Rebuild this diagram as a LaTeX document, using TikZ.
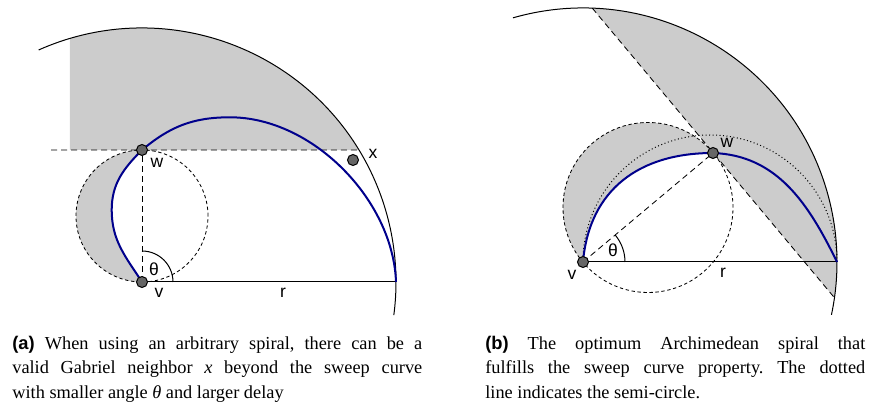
\documentclass[tikz,border=0pt]{standalone}
\usepackage{fontspec}
\setmainfont{Liberation Serif}
\setsansfont{Liberation Sans}
\usepackage{tikz}
\usetikzlibrary{calc}

\definecolor{areagray}{RGB}{204,204,204}
\definecolor{dotgray}{RGB}{102,102,102}
\definecolor{spiralblue}{RGB}{0,0,140}

\begin{document}
\begin{tikzpicture}[x=0.6pt, y=0.6pt,
    dot/.style={circle, draw, fill=dotgray, inner sep=0pt, minimum size=6.6pt, line width=0.6pt},
    lbl/.style={font=\sffamily\fontsize{10.5}{12}\selectfont, inner sep=0pt},
    spiral/.style={draw=spiralblue, line width=1.2pt},
    helper/.style={draw, dash pattern=on 3.6pt off 2.4pt, line width=0.5pt},
    thales/.style={draw, dash pattern=on 2pt off 1.6pt, line width=0.5pt},
    half/.style={draw, dash pattern=on 0.6pt off 1.5pt, line width=0.6pt},
    capt/.style={text width=246pt, align=justify, inner sep=0pt, anchor=north west,
        font=\fontsize{11}{14.6}\selectfont\frenchspacing}]

    \useasboundingbox (0,0) rectangle (869,403);

    % (a) arbitrary spiral
    \coordinate (v1) at (142,121);
    \coordinate (w1) at (142,253);
    \coordinate (e1) at (396,121);
    \coordinate (m1) at (142,187);
    \coordinate (x1) at (353,243);
    \coordinate (l1) at (111.7,193);
    \coordinate (t1) at (230,285.7);
    \coordinate (h1) at (51,253);
    \coordinate (k1) at ($(v1)+(31.3:254)$);
    \coordinate (g1) at (70,253);

    \fill[areagray] (m1) circle[radius=66];
    \fill[white] (v1) to[out=123,in=-90] (l1) to[out=90,in=225] (w1)
        to[out=40,in=180] (t1) to[out=0,in=92,looseness=0.9] (e1) -- cycle;
    \fill[areagray] (g1) -- (k1) arc[start angle=31.3, end angle=106.5, radius=254] -- cycle;

    \draw[thales] (m1) circle[radius=66];
    \draw[helper] (h1) -- (k1);
    \draw[helper] (v1) -- (w1);
    \draw[line width=0.6pt] (v1) -- (e1);
    \draw[line width=0.6pt] (v1) ++(31,0) arc[start angle=0, end angle=90, radius=31];
    \draw[line width=0.6pt] (v1) ++(114:254) arc[start angle=114, end angle=-7.5, radius=254];
    \draw[spiral] (v1) to[out=123,in=-90] (l1) to[out=90,in=225] (w1)
        to[out=40,in=180] (t1) to[out=0,in=92,looseness=0.9] (e1);

    \node[dot] (v1dot) at (v1) {};
    \node[dot] (w1dot) at (w1) {};
    \node[dot] (x1dot) at (x1) {};
    \node[lbl] (w1lbl) at (157,240) {w};
    \node[lbl] (v1lbl) at (159,110) {v};
    \node[lbl] (r1lbl) at (283,110) {r};
    \node[lbl] (t1lbl) at (154,134) {θ};
    \node[lbl] (x1lbl) at (373,249) {x};

    % (b) optimum Archimedean spiral
    \coordinate (v2) at (583,141);
    \coordinate (w2) at (713,250);
    \coordinate (e2) at (837,141);
    \coordinate (m2) at ($(v2)!0.5!(w2)$);
    \coordinate (p2) at ($(v2)+(87.9:254)$);
    \coordinate (q2) at ($(v2)+(-8.1:254)$);
    \coordinate (c2) at (480,141);

    \begin{scope}
        \clip (c2) rectangle (869,403);
        \fill[areagray] (m2) circle[radius=85];
    \end{scope}
    \fill[white] (v2) to[out=85,in=180,looseness=1.1] (w2) to[out=-2,in=116] (e2) -- cycle;
    \fill[areagray] (q2) arc[start angle=-8.1, end angle=87.9, radius=254] -- cycle;

    \draw[half] (e2) arc[start angle=0, end angle=180, radius=127];
    \draw[thales] (m2) circle[radius=85];
    \draw[helper] (v2) -- (w2);
    \draw[helper] (p2) -- (q2);
    \draw[line width=0.6pt] (v2) -- (e2);
    \draw[line width=0.6pt] (v2) ++(42,0) arc[start angle=0, end angle=39.9, radius=42];
    \draw[line width=0.6pt] (v2) ++(106:254) arc[start angle=106, end angle=-12, radius=254];
    \draw[spiral] (v2) to[out=85,in=180,looseness=1.1] (w2) to[out=-2,in=116] (e2);

    \node[dot] (v2dot) at (v2) {};
    \node[dot] (w2dot) at (w2) {};
    \node[lbl] (w2lbl) at (727,260) {w};
    \node[lbl] (v2lbl) at (572,128) {v};
    \node[lbl] (r2lbl) at (723,130) {r};
    \node[lbl] (t2lbl) at (613,153) {θ};

    % Captions
    \node[capt] (cap1) at (12,67) {\textsf{\bfseries (a)} When using an arbitrary spiral, there can be a\linebreak
        valid Gabriel neighbor \textit{x} beyond the sweep curve\linebreak
        with smaller angle \textit{θ} and larger delay};
    \node[capt, text width=228pt] (cap2) at (485,67) {\textsf{\bfseries (b)} The optimum Archimedean spiral that\linebreak
        fulfills the sweep curve property. The dotted\linebreak
        line indicates the semi-circle.};

\end{tikzpicture}
\end{document}
